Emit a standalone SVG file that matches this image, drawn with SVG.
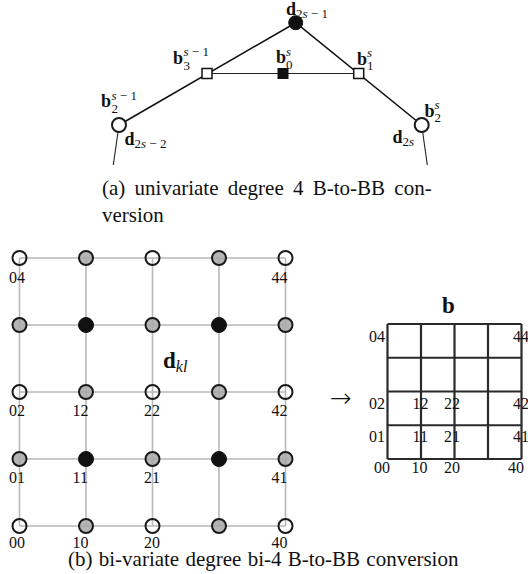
<svg xmlns="http://www.w3.org/2000/svg" width="528" height="574" viewBox="0 0 528 574">
<style>
text{font-family:"Liberation Serif","Times New Roman",serif;fill:#111}
.bf{font-weight:bold}
.it{font-style:italic}
.cap{font-size:21px}
.lbl{font-size:16px}
.thick{stroke:#111;stroke-width:1.6;fill:none}
.thin{stroke:#222;stroke-width:1.1;fill:none}
.grid{stroke:#b8b8b8;stroke-width:1.6;fill:none}
.ow{fill:none;stroke:#1a1a1a;stroke-width:2}
.og{fill:#a8a8a8;fill-opacity:0.85;stroke:#1a1a1a;stroke-width:2}
.ob{fill:#111;stroke:#111;stroke-width:1}
.sq{fill:#fff;stroke:#111;stroke-width:1.5}
.bb{stroke:#2a2a2a;stroke-width:2.2;fill:none}
.B{font-size:18px;font-weight:bold}
.S{font-size:13px}
</style>
<!-- (a) univariate -->
<g id="connectors-a">
<polyline class="thick" points="119,125 295.7,22.7 421.7,125"/>
<line class="thin" x1="207" y1="73.5" x2="358.7" y2="73.5"/>
<line class="thin" x1="119" y1="125" x2="113.3" y2="165"/>
<line class="thin" x1="421.7" y1="125" x2="427.3" y2="165"/>
</g>
<g id="d2s-1"><circle class="ob" cx="295.7" cy="22.7" r="7"/>
<text x="286" y="15"><tspan class="B">d</tspan><tspan class="S" dy="3">2<tspan class="it">s</tspan> − 1</tspan></text></g>
<g id="b3"><rect class="sq" x="202" y="68.5" width="10" height="10"/>
<text x="173" y="64" class="B">b</text><text x="183.5" y="56" class="S"><tspan class="it">s</tspan> − 1</text><text x="183.5" y="69.5" class="S">3</text></g>
<g id="b0"><rect x="278" y="68.5" width="10" height="10" fill="#111" stroke="#111"/>
<text x="276" y="63" class="B">b</text><text x="286" y="56" class="S it">s</text><text x="286" y="68.5" class="S">0</text></g>
<g id="b1"><rect class="sq" x="353.7" y="68.5" width="10" height="10"/>
<text x="357" y="65" class="B">b</text><text x="367" y="57" class="S it">s</text><text x="367" y="69.5" class="S">1</text></g>
<g id="b2left"><circle class="ow" cx="119" cy="125" r="7" style="fill:#fff"/>
<text x="101" y="107" class="B">b</text><text x="111.5" y="100" class="S"><tspan class="it">s</tspan> − 1</text><text x="111.5" y="112.5" class="S">2</text>
<text x="124.5" y="145"><tspan class="B">d</tspan><tspan class="S" dy="3">2<tspan class="it">s</tspan> − 2</tspan></text></g>
<g id="b2right"><circle class="ow" cx="421.7" cy="125" r="7" style="fill:#fff"/>
<text x="424.5" y="117" class="B">b</text><text x="434.5" y="109" class="S it">s</text><text x="434.5" y="121.5" class="S">2</text>
<text x="392.5" y="143"><tspan class="B">d</tspan><tspan class="S" dy="3">2<tspan class="it">s</tspan></tspan></text></g>
<text class="cap" x="102" y="195" word-spacing="4">(a) univariate degree 4 B-to-BB con-</text>
<text class="cap" x="102" y="222">version</text>
<!-- (b) grid -->
<g id="connectors-b">
<path class="grid" d="M19.5,258H285.5M19.5,325H285.5M19.5,392H285.5M19.5,459H285.5M19.5,526H285.5M19.5,258V526M86,258V526M152.5,258V526M219,258V526M285.5,258V526"/>
</g>
<g id="cp-row4"><circle class="ow" cx="19.5" cy="258" r="7"/><circle class="og" cx="86" cy="258" r="7"/><circle class="ow" cx="152.5" cy="258" r="7"/><circle class="og" cx="219" cy="258" r="7"/><circle class="ow" cx="285.5" cy="258" r="7"/></g>
<g id="cp-row3"><circle class="og" cx="19.5" cy="325" r="7"/><circle class="ob" cx="86" cy="325" r="7.5"/><circle class="og" cx="152.5" cy="325" r="7"/><circle class="ob" cx="219" cy="325" r="7.5"/><circle class="og" cx="285.5" cy="325" r="7"/></g>
<g id="cp-row2"><circle class="ow" cx="19.5" cy="392" r="7"/><circle class="og" cx="86" cy="392" r="7"/><circle class="ow" cx="152.5" cy="392" r="7"/><circle class="og" cx="219" cy="392" r="7"/><circle class="ow" cx="285.5" cy="392" r="7"/></g>
<g id="cp-row1"><circle class="og" cx="19.5" cy="459" r="7"/><circle class="ob" cx="86" cy="459" r="7.5"/><circle class="og" cx="152.5" cy="459" r="7"/><circle class="ob" cx="219" cy="459" r="7.5"/><circle class="og" cx="285.5" cy="459" r="7"/></g>
<g id="cp-row0"><circle class="ow" cx="19.5" cy="526" r="7"/><circle class="og" cx="86" cy="526" r="7"/><circle class="ow" cx="152.5" cy="526" r="7"/><circle class="og" cx="219" cy="526" r="7"/><circle class="ow" cx="285.5" cy="526" r="7"/></g>
<g id="grid-labels">
<text class="lbl" x="9" y="283">04</text><text class="lbl" x="271.5" y="283">44</text>
<text class="lbl" x="9" y="416">02</text><text class="lbl" x="72.5" y="416">12</text><text class="lbl" x="144" y="416">22</text><text class="lbl" x="271.5" y="416">42</text>
<text class="lbl" x="9" y="483">01</text><text class="lbl" x="72.5" y="483">11</text><text class="lbl" x="144" y="483">21</text><text class="lbl" x="271.5" y="483">41</text>
<text class="lbl" x="9" y="548">00</text><text class="lbl" x="72.5" y="548">10</text><text class="lbl" x="144" y="548">20</text><text class="lbl" x="271.5" y="548">40</text>
</g>
<g id="dkl"><text x="163" y="368"><tspan class="bf" font-size="23">d</tspan><tspan class="it" font-size="16" dy="4">kl</tspan></text></g>
<g id="arrow"><text x="341" y="407" font-size="26" font-weight="200" text-anchor="middle" style="font-family:'DejaVu Sans',sans-serif">→</text></g>
<!-- BB grid -->
<g id="bb-net">
<text x="442" y="313" font-size="23" class="bf">b</text>
<path class="bb" d="M387.5,324H521.5M387.5,357.75H521.5M387.5,391.5H521.5M387.5,425.25H521.5M387.5,459H521.5M387.5,324V459M421,324V459M454.5,324V459M488,324V459M521.5,324V459"/>
<text class="lbl" x="369" y="342">04</text><text class="lbl" x="513" y="342">44</text>
<text class="lbl" x="369" y="408.5">02</text><text class="lbl" x="412.5" y="408.5">12</text><text class="lbl" x="444" y="408.5">22</text><text class="lbl" x="513" y="408.5">42</text>
<text class="lbl" x="369" y="442">01</text><text class="lbl" x="412.5" y="442">11</text><text class="lbl" x="444" y="442">21</text><text class="lbl" x="513" y="442">41</text>
<text class="lbl" x="374" y="473">00</text><text class="lbl" x="411.5" y="473">10</text><text class="lbl" x="444" y="473">20</text><text class="lbl" x="508" y="473">40</text>
</g>
<text class="cap" x="68" y="566" word-spacing="1">(b) bi-variate degree bi-4 B-to-BB conversion</text>
</svg>
